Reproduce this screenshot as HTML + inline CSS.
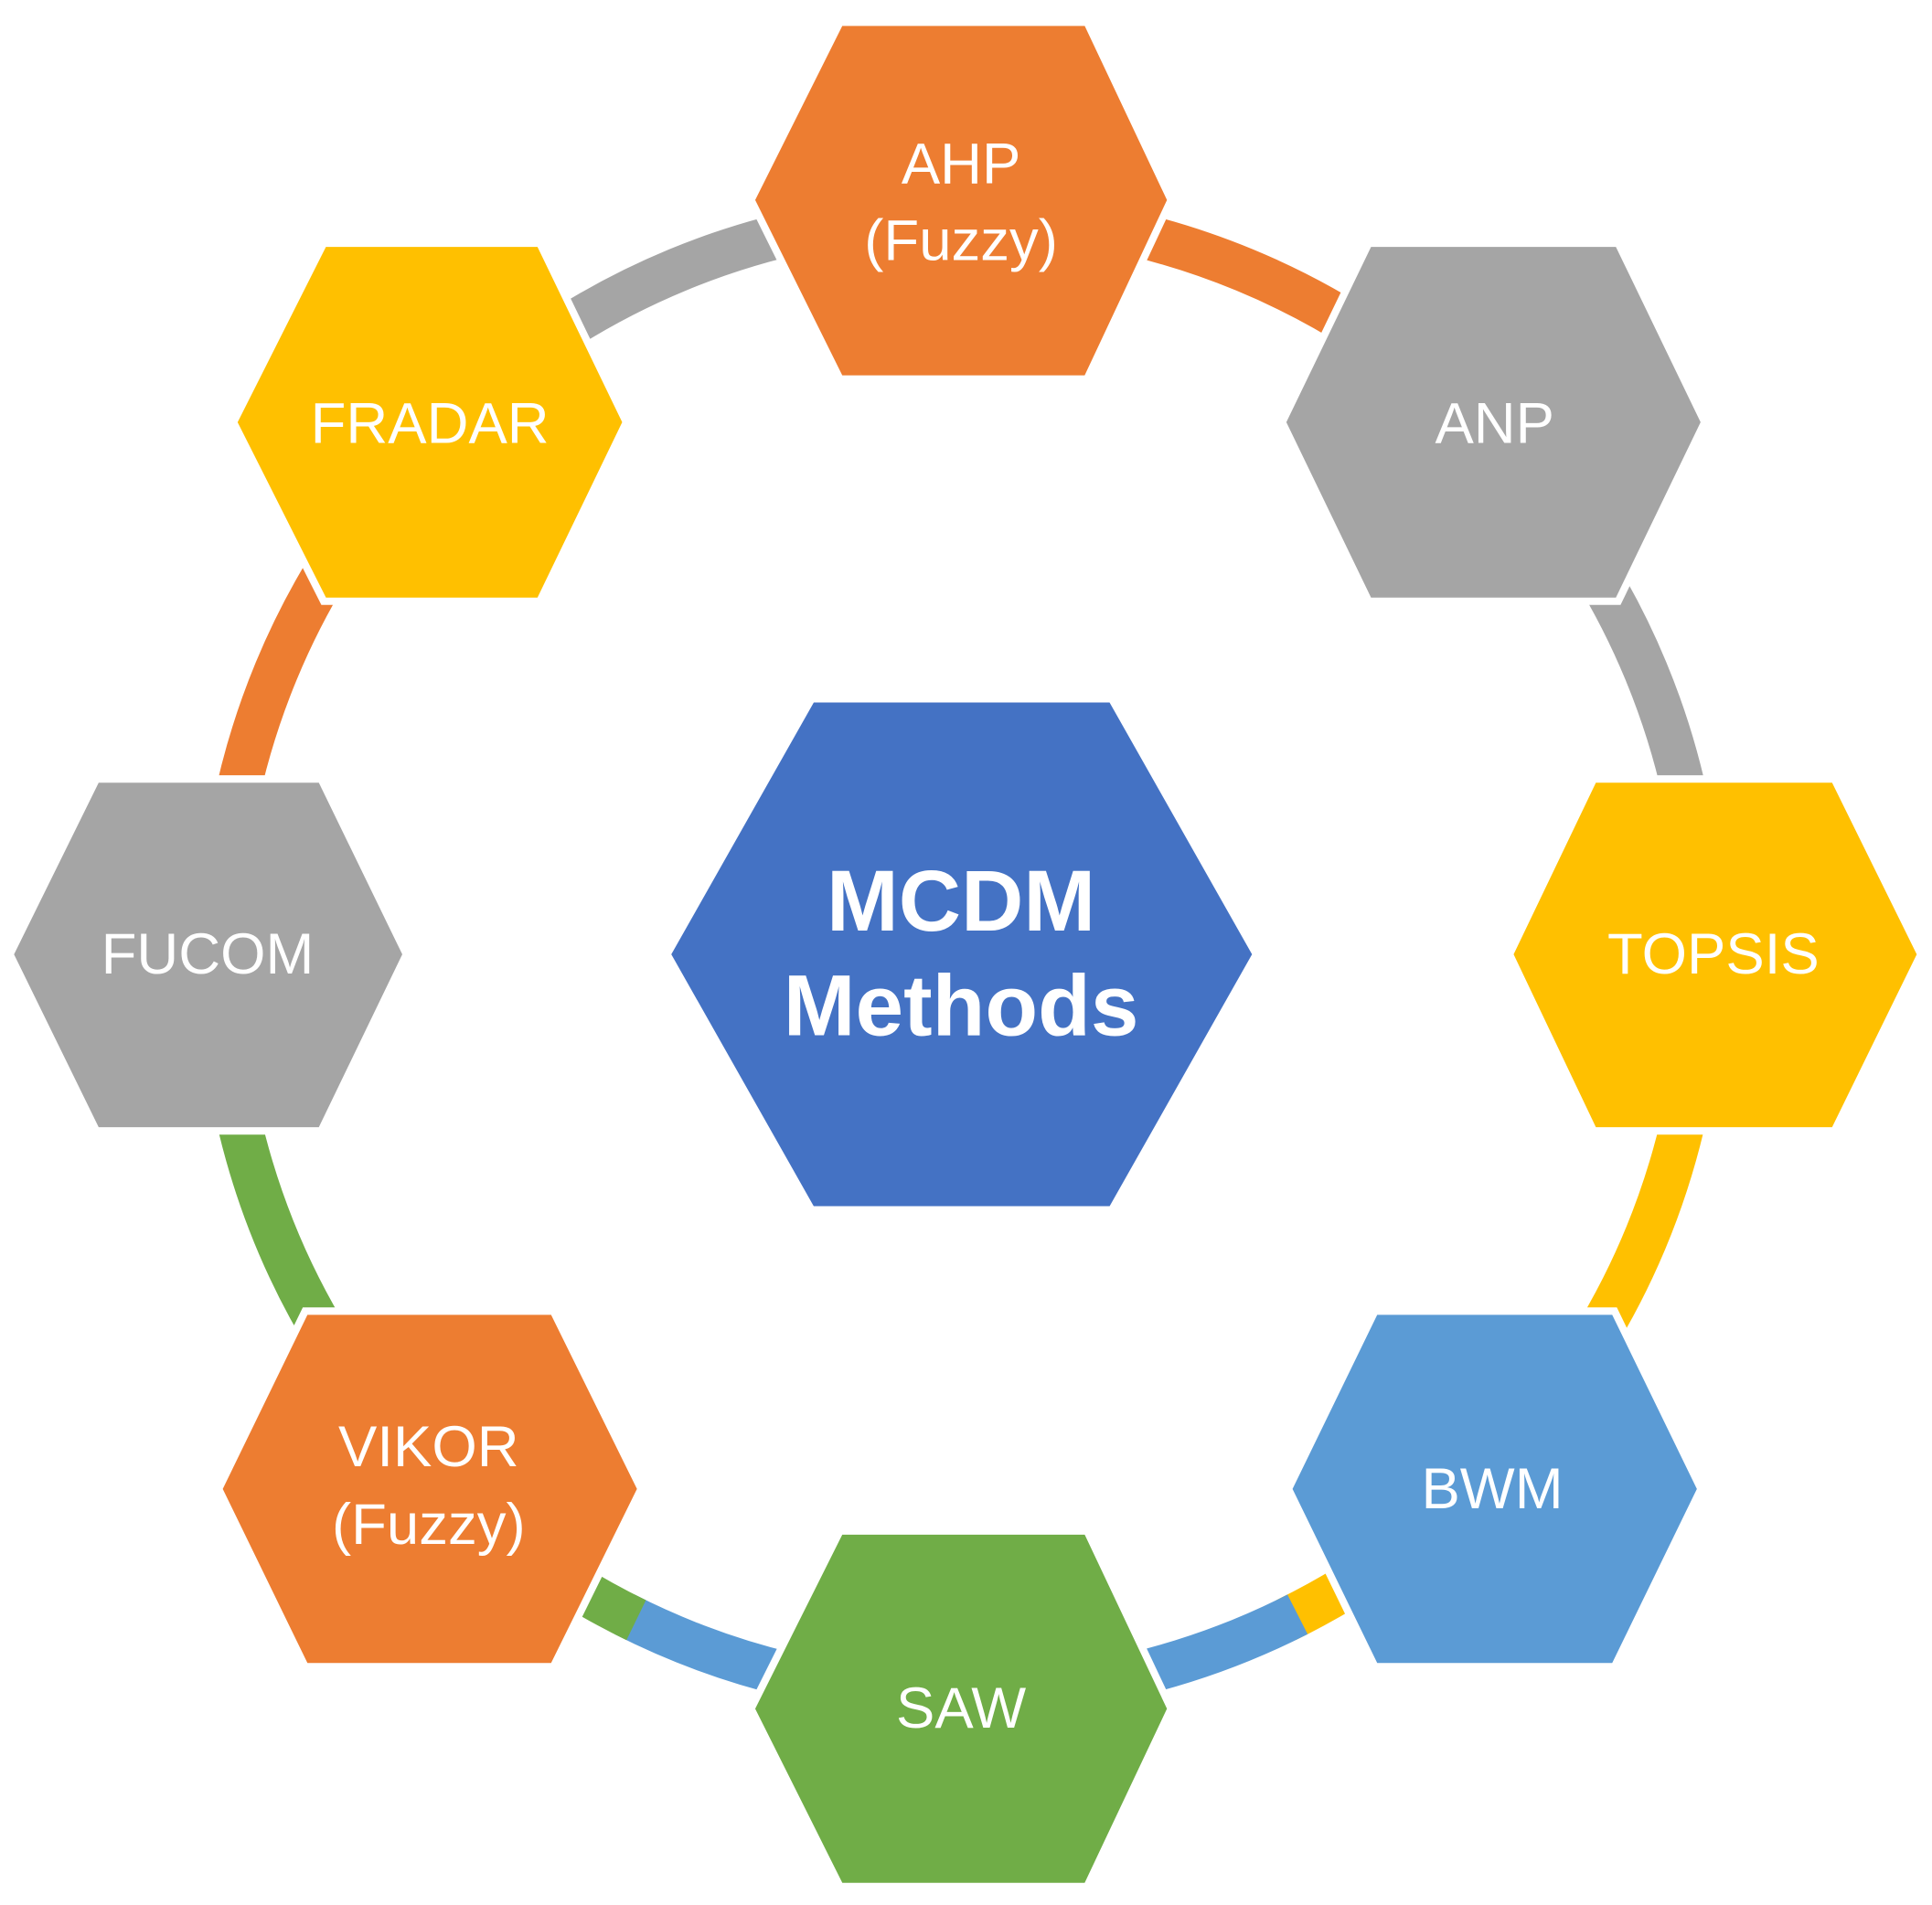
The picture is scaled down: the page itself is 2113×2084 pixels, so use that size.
<!DOCTYPE html>
<html><head><meta charset="utf-8"><style>
html,body{margin:0;padding:0;background:#fff;}
svg{display:block;}
text{font-family:"Liberation Sans",sans-serif;fill:#fff;text-anchor:middle;dominant-baseline:central;}
</style></head><body>
<svg width="2113" height="2084" viewBox="0 0 1564 1543" preserveAspectRatio="none" xmlns="http://www.w3.org/2000/svg">
<g transform="translate(778,773)" fill="none" stroke-width="36">
<circle r="600" pathLength="360" stroke="#ED7D31" stroke-dasharray="45 315" stroke-dashoffset="-270"/>
<circle r="600" pathLength="360" stroke="#A5A5A5" stroke-dasharray="45 315" stroke-dashoffset="-315"/>
<circle r="600" pathLength="360" stroke="#FFC000" stroke-dasharray="64 296" stroke-dashoffset="0"/>
<circle r="600" pathLength="360" stroke="#5B9BD5" stroke-dasharray="54 306" stroke-dashoffset="-63"/>
<circle r="600" pathLength="360" stroke="#70AD47" stroke-dasharray="65 295" stroke-dashoffset="-116"/>
<circle r="600" pathLength="360" stroke="#ED7D31" stroke-dasharray="45 315" stroke-dashoffset="-180"/>
<circle r="600" pathLength="360" stroke="#A5A5A5" stroke-dasharray="45 315" stroke-dashoffset="-225"/>
</g>
<g stroke="#fff" stroke-width="6">
<polygon fill="#ED7D31" points="680,18 880,18 948,162 880,307 680,307 608,162"/>
<polygon fill="#A5A5A5" points="1108,197 1310,197 1380,342 1310,487 1108,487 1038,342"/>
<polygon fill="#FFC000" points="262,197 437,197 507,342 437,487 262,487 189,342"/>
<polygon fill="#FFC000" points="1290,631 1485,631 1555,773 1485,916 1290,916 1222,773"/>
<polygon fill="#A5A5A5" points="78,631 260,631 329,773 260,916 78,916 8,773"/>
<polygon fill="#4472C4" points="657,566 900,566 1017,773 900,980 657,980 540,773"/>
<polygon fill="#5B9BD5" points="1113,1062 1307,1062 1377,1206 1307,1350 1113,1350 1043,1206"/>
<polygon fill="#ED7D31" points="247,1062 448,1062 519,1206 448,1350 247,1350 177,1206"/>
<polygon fill="#70AD47" points="680,1240 880,1240 948,1384 880,1528 680,1528 608,1384"/>
</g>
<g font-size="47">
<text x="778" y="133">AHP</text>
<text x="778" y="195">(Fuzzy)</text>
<text x="1210" y="343">ANP</text>
<text x="348" y="343">FRADAR</text>
<text x="1387" y="773">TOPSIS</text>
<text x="168" y="773">FUCOM</text>
<text x="1208" y="1206">BWM</text>
<text x="347" y="1172">VIKOR</text>
<text x="347" y="1235">(Fuzzy)</text>
<text x="778" y="1384">SAW</text>
</g>
<g font-size="70" font-weight="bold">
<text x="778" y="730">MCDM</text>
<text x="778" y="815">Methods</text>
</g>
</svg>
</body></html>
